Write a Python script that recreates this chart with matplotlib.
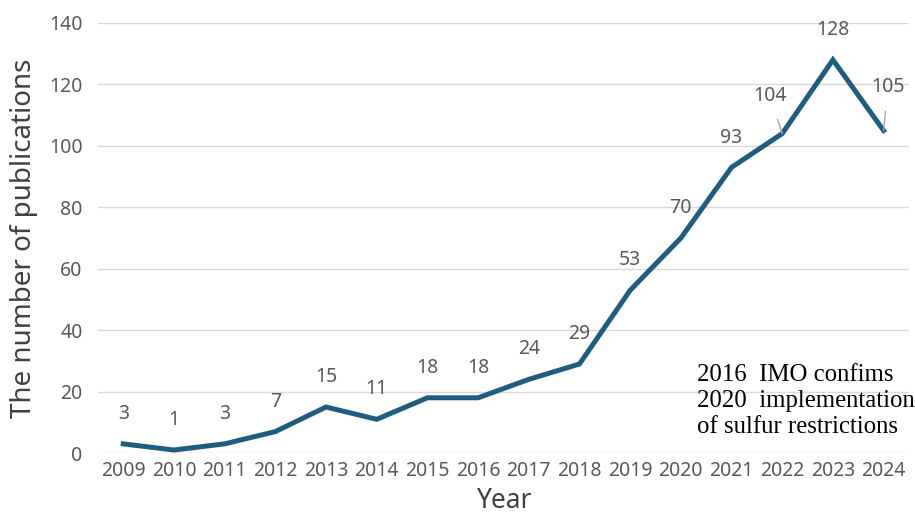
import matplotlib
matplotlib.use("Agg")
import matplotlib.pyplot as plt

years = ["2009", "2010", "2011", "2012", "2013", "2014", "2015", "2016",
         "2017", "2018", "2019", "2020", "2021", "2022", "2023", "2024"]
pubs = [3, 1, 3, 7, 15, 11, 18, 18, 24, 29, 53, 70, 93, 104, 128, 105]
yticks = [0, 20, 40, 60, 80, 100, 120, 140]
note = "2016  IMO confims\n2020  implementation\nof sulfur restrictions"

plt.rcParams['font.family'] = ['Noto Sans', 'DejaVu Sans']

fig = plt.figure(figsize=(9.15, 5.22), dpi=100)
ax = fig.add_axes([0.107, 0.132, 0.8864, 0.824])
x = list(range(len(years)))
ax.plot(x, pubs, color="#1F5D80", lw=3.6, solid_joinstyle="miter", zorder=3)

ax.set_xlim(-0.5, len(years) - 0.5)
ax.set_ylim(0, 140)
ax.set_yticks(yticks)
ax.set_xticks(x)
ax.set_xticklabels(years)
ax.grid(axis="y", color="#D9D9D9", lw=1.0)
ax.set_axisbelow(True)
for s in ax.spines.values():
    s.set_visible(False)
ax.tick_params(axis="both", length=0, labelsize=14, colors="#595959")
ax.tick_params(axis="y", pad=11)
ax.tick_params(axis="x", pad=6)

ax.set_ylabel("The number of publications", fontsize=20, color="#404040", labelpad=8)
ax.set_xlabel("Year", fontsize=19, color="#404040", labelpad=4)

lab_kw = dict(textcoords="offset points", ha="center", va="center",
              fontsize=14, color="#595959")
for i, v in enumerate(pubs):
    if years[i] == "2022":
        ax.annotate(str(v), xy=(i, v), xytext=(-9, 27),
                    arrowprops=dict(arrowstyle="-", color="#A6A6A6", lw=1.0,
                                    shrinkA=8, shrinkB=0), **lab_kw)
    elif years[i] == "2024":
        ax.annotate(str(v), xy=(i, v), xytext=(3, 31),
                    arrowprops=dict(arrowstyle="-", color="#A6A6A6", lw=1.0,
                                    shrinkA=8, shrinkB=0), **lab_kw)
    else:
        ax.annotate(str(v), xy=(i, v), xytext=(0, 21.5), **lab_kw)

fig.text(697 / 915, 1 - 364 / 522, note, ha="left", va="top", fontsize=17.8,
         family=["Liberation Serif"], color="black", linespacing=1.24)

fig.savefig("out.png", dpi=100)
